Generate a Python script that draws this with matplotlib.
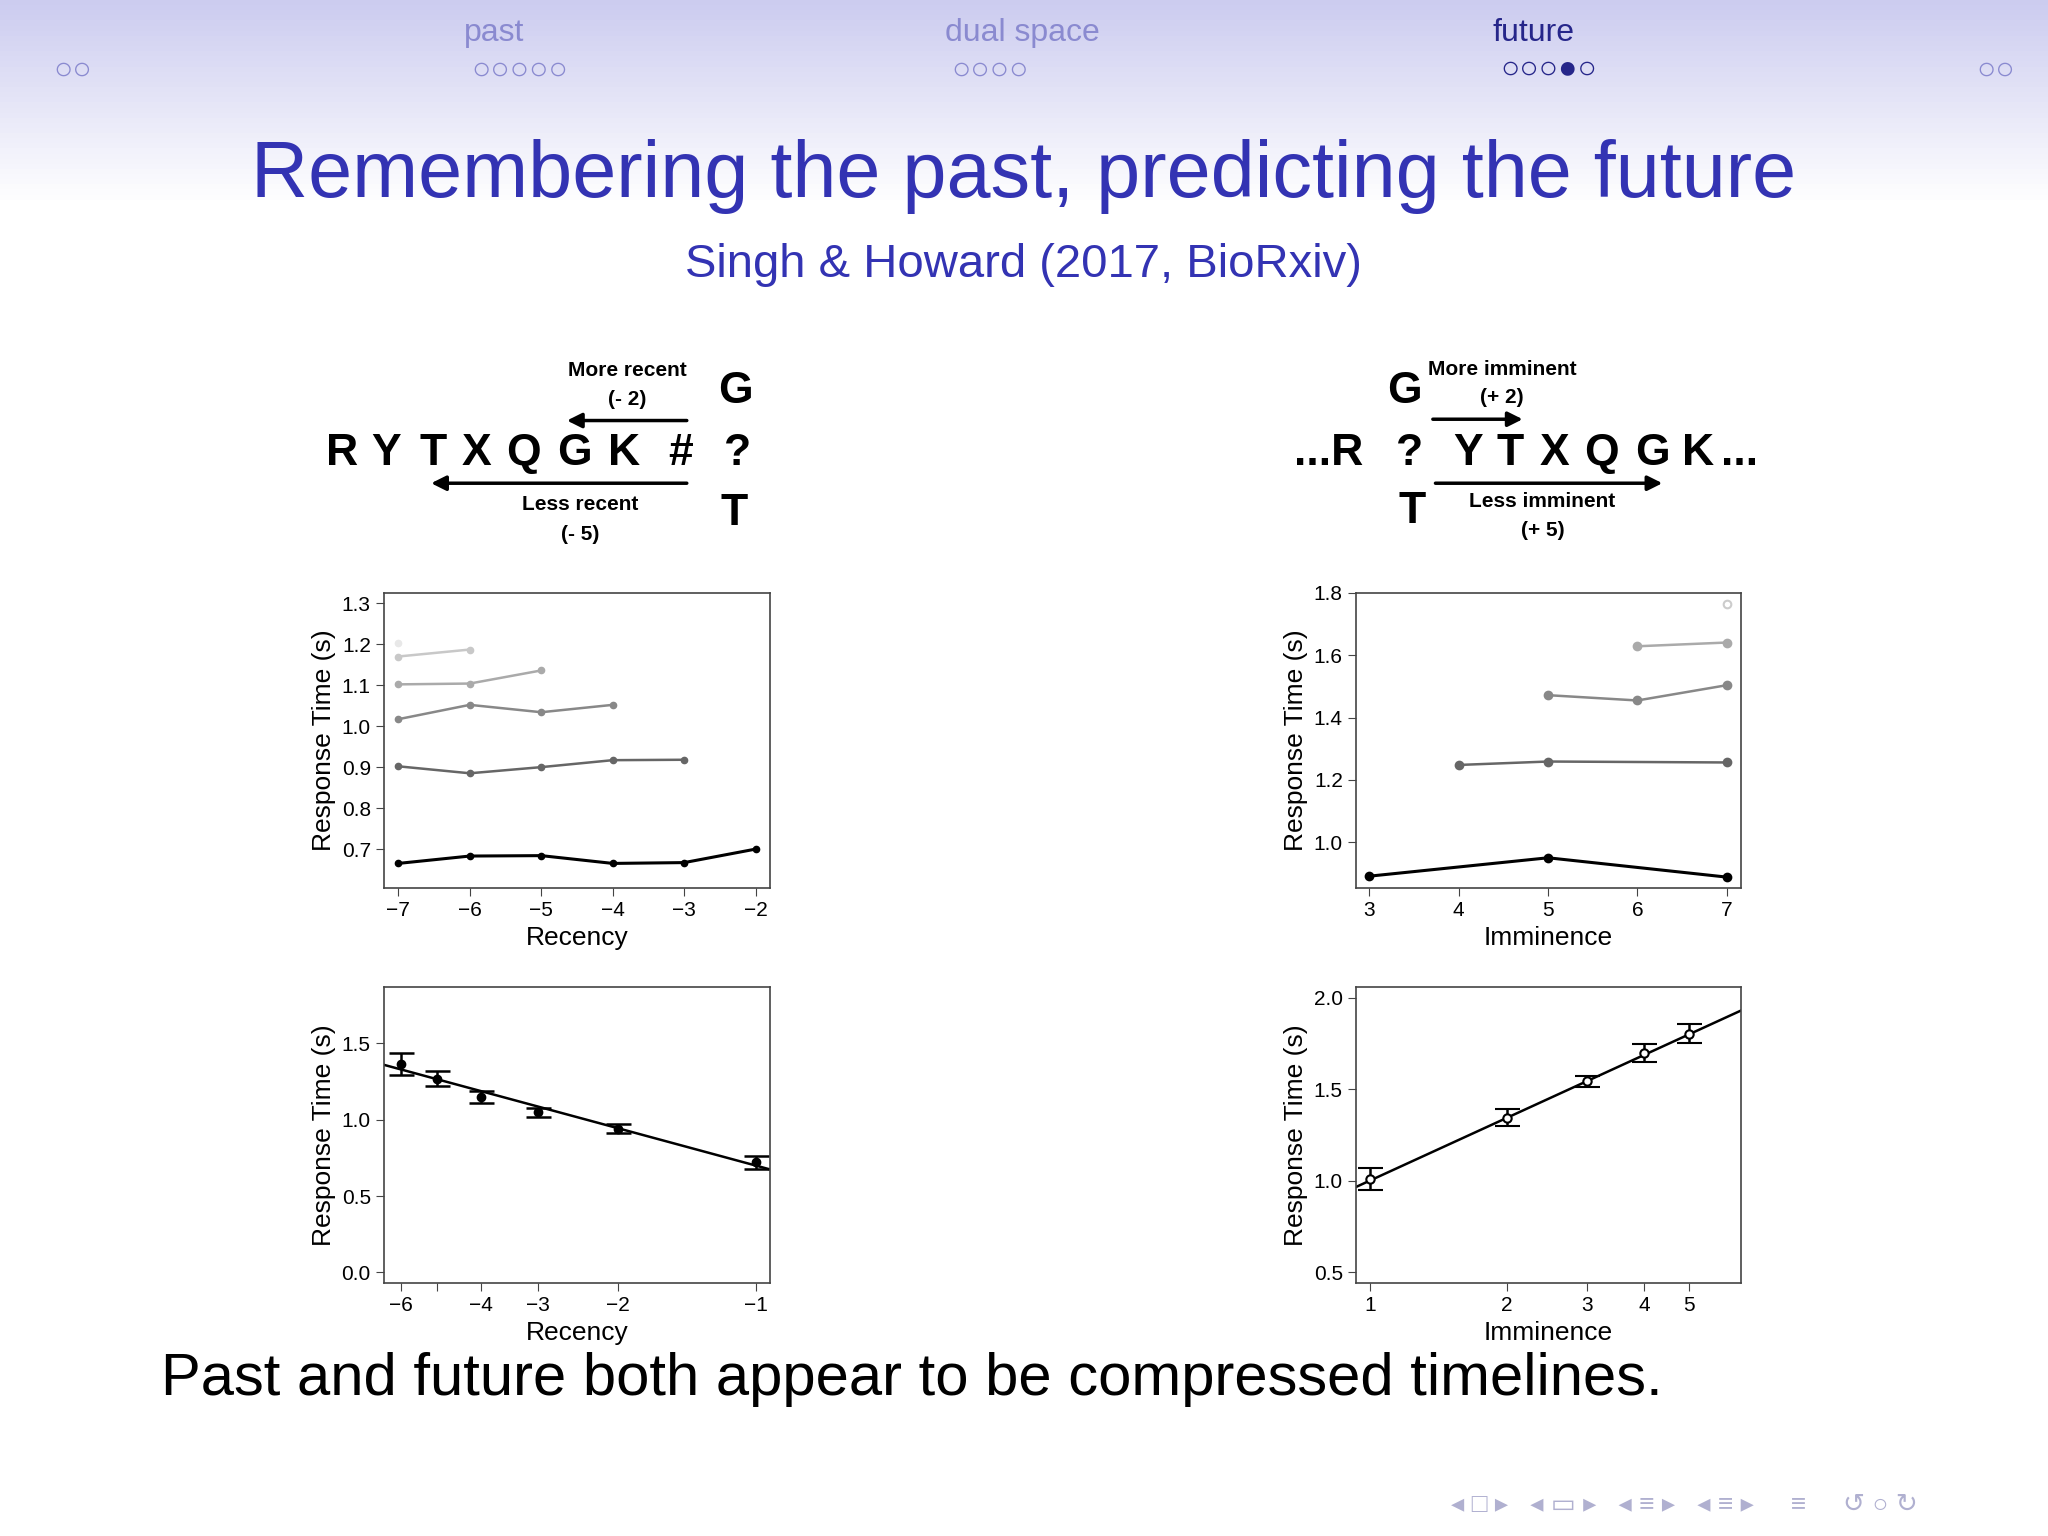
import numpy as np
import matplotlib
matplotlib.use("Agg")
import matplotlib.pyplot as plt
from matplotlib.ticker import FixedLocator, NullLocator

plt.rcParams['font.family'] = ['Liberation Sans', 'DejaVu Sans']

# ---------------- data ----------------
rec_x = [[-7, -6, -5, -4, -3, -2], [-7, -6, -5, -4, -3], [-7, -6, -5, -4], [-7, -6, -5], [-7, -6], [-7]]
rec_y = [[0.665, 0.683, 0.684, 0.665, 0.667, 0.700],
         [0.902, 0.885, 0.900, 0.917, 0.918],
         [1.017, 1.052, 1.034, 1.052],
         [1.102, 1.104, 1.136],
         [1.170, 1.187],
         [1.203]]
rec_colors = ['#000000', '#666666', '#888888', '#aaaaaa', '#c8c8c8', '#e8e8e8']

imm_x = [[3, 5, 7], [4, 5, 7], [5, 6, 7], [6, 7], [7]]
imm_y = [[0.891, 0.950, 0.888],
         [1.248, 1.259, 1.256],
         [1.472, 1.455, 1.504],
         [1.629, 1.641],
         [1.766]]
imm_colors = ['#000000', '#666666', '#888888', '#aaaaaa', '#cccccc']

recency = [-6, -5, -4, -3, -2, -1]
rec_mean = [1.365, 1.27, 1.15, 1.05, 0.94, 0.72]
rec_err = [0.075, 0.05, 0.04, 0.03, 0.03, 0.04]
rec_fit = [1.33, 0.70]  # fitted RT at |recency| = 6 and 1

imminence = [1, 2, 3, 4, 5]
imm_mean = [1.01, 1.345, 1.545, 1.70, 1.805]
imm_err = [0.06, 0.045, 0.03, 0.05, 0.05]
imm_fit = [1.0, 1.80]  # fitted RT at imminence 1 and 5

W, H = 2048, 1536
fig = plt.figure(figsize=(20.48, 15.36), dpi=100)

# header gradient
bg = fig.add_axes([0, 0, 1, 1], zorder=-10)
grad = np.linspace(0, 1, 300)[:, None]
top = np.array([0.80, 0.80, 0.94]); white = np.array([1, 1, 1])
img = np.clip(grad / 0.13, 0, 1)
cols = top[None, None, :] * (1 - img[..., None]) + white[None, None, :] * img[..., None]
bg.imshow(cols, extent=[0, 1, 0, 1], aspect='auto', origin='upper')
bg.set_axis_off()

S = 1.306  # displayed -> original pixels
def P(x, y):
    return (x * S / W, 1 - y * S / H)

def T(x, y, s, **kw):
    fig.text(*P(x, y), s, ha=kw.pop('ha', 'center'), va=kw.pop('va', 'center'), **kw)

blue = '#3333b3'
nav = '#8a8ad0'
T(378, 25, 'past', fontsize=23, color=nav)
T(783, 25, 'dual space', fontsize=23, color=nav)
T(1174, 25, 'future', fontsize=23, color='#26268a')
T(56, 54, '○○', fontsize=23, color=nav)
T(398, 54, '○○○○○', fontsize=23, color=nav)
T(758, 54, '○○○○', fontsize=23, color=nav)
T(1186, 54, '○○○●○', fontsize=23, color='#26268a')
T(1528, 54, '○○', fontsize=23, color=nav)

T(784, 135, 'Remembering the past, predicting the future', fontsize=57, color=blue)
T(784, 203, 'Singh & Howard (2017, BioRxiv)', fontsize=34, color=blue)
T(123, 1056, 'Past and future both appear to be compressed timelines.', fontsize=43, ha='left', color='black')
T(1290, 1152, '◂ □ ▸   ◂ ▭ ▸   ◂ ≡ ▸   ◂ ≡ ▸     ≡     ↺ ○ ↻', fontsize=19, color='#b0b0d0')

# sequence diagrams
def arrow(x1, y1, x2, y2):
    fig.add_artist(matplotlib.patches.FancyArrowPatch(P(x1, y1), P(x2, y2), transform=fig.transFigure,
                   arrowstyle='-|>', mutation_scale=22, lw=2.5, color='black'))

T(480, 284, 'More recent', fontsize=15, fontweight='bold')
T(480, 306, '(- 2)', fontsize=15, fontweight='bold')
arrow(528, 322, 432, 322)
T(563, 300, 'G', fontsize=32, fontweight='bold')
for ch, x in zip('RYTXQGK#', [262, 296, 332, 365, 401, 440, 478, 521]):
    T(x, 347, ch, fontsize=32, fontweight='bold')
T(565, 347, '?', fontsize=32, fontweight='bold')
arrow(528, 370, 328, 370)
T(444, 386, 'Less recent', fontsize=15, fontweight='bold')
T(444, 409, '(- 5)', fontsize=15, fontweight='bold')
T(562, 393, 'T', fontsize=32, fontweight='bold')

T(1075, 300, 'G', fontsize=32, fontweight='bold')
T(1150, 283, 'More imminent', fontsize=15, fontweight='bold')
T(1150, 304, '(+ 2)', fontsize=15, fontweight='bold')
arrow(1095, 321, 1168, 321)
T(1017, 347, '...R', fontsize=32, fontweight='bold')
T(1079, 347, '?', fontsize=32, fontweight='bold')
for ch, x in zip('YTXQGK', [1124, 1156, 1190, 1226, 1265, 1300]):
    T(x, 347, ch, fontsize=32, fontweight='bold')
T(1332, 347, '...', fontsize=32, fontweight='bold')
arrow(1097, 370, 1275, 370)
T(1081, 392, 'T', fontsize=32, fontweight='bold')
T(1181, 384, 'Less imminent', fontsize=15, fontweight='bold')
T(1181, 406, '(+ 5)', fontsize=15, fontweight='bold')

def mkax(x0, y0, x1, y1):
    ax = fig.add_axes([x0 / W, 1 - y1 / H, (x1 - x0) / W, (y1 - y0) / H])
    for s in ax.spines.values():
        s.set_color('#444444'); s.set_linewidth(1.2)
    ax.tick_params(labelsize=15, length=6, color='#444444')
    return ax

lab = dict(fontsize=19)

# top-left
ax = mkax(384, 593, 770, 888)
for xs, ys, c in zip(rec_x, rec_y, rec_colors):
    ax.plot(xs, ys, '-o', color=c, lw=2.2 if c == '#000000' else 1.8, ms=4.5)
ax.set_xlim(-7.2, -1.8); ax.set_ylim(0.605, 1.325)
ax.set_xticks(range(-7, -1)); ax.set_xticklabels(['−%d' % i for i in range(7, 1, -1)])
ax.set_yticks(np.arange(0.7, 1.31, 0.1)); ax.set_yticklabels(['%.1f' % v for v in np.arange(0.7, 1.31, 0.1)])
ax.set_xlabel('Recency', **lab); ax.set_ylabel('Response Time (s)', **lab)

# top-right
ax = mkax(1356, 593, 1741, 888)
for i, (xs, ys, c) in enumerate(zip(imm_x, imm_y, imm_colors)):
    ax.plot(xs, ys, '-o', color=c, lw=2.2 if i == 0 else 1.8, ms=5.5,
            mfc='white' if i == 4 else c, mew=1.5)
ax.set_xlim(2.85, 7.16); ax.set_ylim(0.853, 1.8)
ax.set_xticks([3, 4, 5, 6, 7]); ax.set_yticks([1.0, 1.2, 1.4, 1.6, 1.8])
ax.set_yticklabels(['1.0', '1.2', '1.4', '1.6', '1.8'])
ax.set_xlabel('Imminence', **lab); ax.set_ylabel('Response Time (s)', **lab)

# bottom-left (log |recency|, reversed)
ax = mkax(384, 987, 770, 1283)
absr = np.abs(recency)
ax.set_xscale('log')
ax.errorbar(absr, rec_mean, yerr=rec_err, fmt='o', color='black', ms=6, capsize=9, lw=1.8, capthick=1.8)
xl = np.array([6.53, 0.93])
b = (rec_fit[1] - rec_fit[0]) / (np.log(1) - np.log(6))
ax.plot(xl, rec_fit[1] + b * np.log(xl), color='black', lw=1.8)
ax.set_xlim(6.53, 0.93); ax.set_ylim(-0.07, 1.87)
ax.xaxis.set_major_locator(FixedLocator(list(absr)))
ax.xaxis.set_minor_locator(NullLocator())
ax.set_xticklabels(['−6', '', '−4', '−3', '−2', '−1'])
ax.set_yticks([0, 0.5, 1.0, 1.5]); ax.set_yticklabels(['0.0', '0.5', '1.0', '1.5'])
ax.set_xlabel('Recency', **lab); ax.set_ylabel('Response Time (s)', **lab)

# bottom-right (log imminence)
ax = mkax(1356, 987, 1741, 1283)
ax.set_xscale('log')
ax.errorbar(imminence, imm_mean, yerr=imm_err, fmt='o', color='black', mfc='white', ms=6, capsize=9, lw=1.8, capthick=1.8, mew=1.5)
xl = np.array([0.933, 6.51])
b = (imm_fit[1] - imm_fit[0]) / np.log(5)
ax.plot(xl, imm_fit[0] + b * np.log(xl), color='black', lw=1.8)
ax.set_xlim(0.933, 6.51); ax.set_ylim(0.44, 2.06)
ax.xaxis.set_major_locator(FixedLocator(imminence))
ax.xaxis.set_minor_locator(NullLocator())
ax.set_xticklabels([str(i) for i in imminence])
ax.set_yticks([0.5, 1.0, 1.5, 2.0])
ax.set_xlabel('Imminence', **lab); ax.set_ylabel('Response Time (s)', **lab)

fig.savefig('out.png', dpi=100)
